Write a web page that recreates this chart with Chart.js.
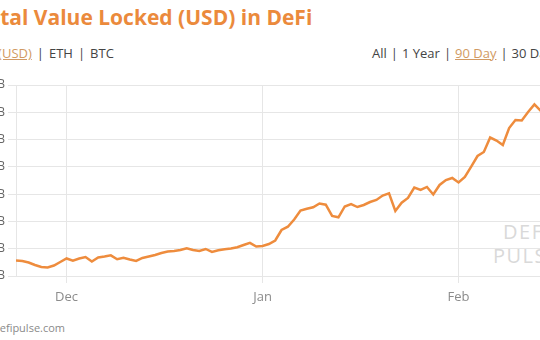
<!DOCTYPE html>
<html>
<head>
<meta charset="utf-8">
<script src="https://cdn.jsdelivr.net/npm/chart.js@4.4.0/dist/chart.umd.min.js"></script>
<style>
    html, body { margin: 0; padding: 0; width: 540px; height: 340px; overflow: hidden; background: #fff; }
    body { position: relative; font-family: 'Open Sans', sans-serif; }
    .abs { position: absolute; white-space: nowrap; }
    #title { top: 3px; font-size: 21px; line-height: 28px; font-weight: 700; color: #eb8a3c; }
    #units { top: 45px; font-size: 13px; line-height: 16px; color: #444; }
    #ranges { top: 45px; left: 372px; font-size: 13px; line-height: 16px; color: #444; }
    .sel { color: #d19a63; text-decoration: underline; }
    .sep { margin: 0 5px; }
    #source { top: 320px; font-size: 11px; line-height: 16px; color: #8a8a8a; }
    .mark { font-size: 20px; line-height: 24px; letter-spacing: 1.5px; color: #d9d9d9; font-weight: 400; }
    #chartBox { position: absolute; left: -24px; top: 75px; width: 609px; height: 241px; }
</style>
</head>
<body>
<div id="title" class="abs"><span id="titleCut">To</span>tal Value Locked (USD) in DeFi</div>
<div id="units" class="abs"><span id="unitsCut">TVL </span><span class="sel">(USD)</span><span class="sep">|</span>ETH<span class="sep">|</span>BTC</div>
<div id="ranges" class="abs">All<span class="sep" style="margin:0 4px">|</span>1 Year<span class="sep" style="margin:0 4px">|</span><span class="sel">90 Day</span><span class="sep" style="margin:0 4px">|</span>30 Day</div>
<div class="abs mark" style="left:503px; top:220px;">DEFI</div>
<div class="abs mark" style="left:493px; top:244px;">PULSE</div>
<div id="source" class="abs"><span id="sourceCut">d</span>efipulse.com</div>
<div id="chartBox"><canvas id="tvlChart"></canvas></div>
<script>
// Total value locked, USD billions, one value per day starting 2020-11-23
const startDate = '2020-11-23';
const tvlUsdB = [
    12.84, 12.75, 12.47, 12.02, 11.65, 11.56, 11.92, 12.57,
    13.21, 12.80, 13.21, 13.48, 12.66, 13.39, 13.57, 13.79, 13.08, 13.34,
    13.02, 12.75, 13.30, 13.57, 13.85, 14.21, 14.49, 14.58, 14.76, 15.08,
    14.76, 14.58, 14.95, 14.40, 14.71, 14.91, 15.04, 15.26, 15.68, 16.08, 15.41,
    15.50, 15.86, 16.51, 18.43, 19.03, 20.35, 22.00, 22.33, 22.59, 23.29,
    23.07, 21.00, 20.76, 22.74, 23.19, 22.64, 23.01, 23.56, 23.93, 24.75,
    25.15, 21.91, 23.43, 24.29, 26.22, 25.76, 26.31, 24.93, 26.68, 27.59, 27.96,
    27.13, 28.14, 30.03, 31.99, 32.72, 35.38, 34.83, 34.01, 37.12, 38.59,
    38.50, 40.05, 41.43, 40.24
];
// Month boundaries, as day offsets from startDate
const monthLabels = ['Dec', 'Jan', 'Feb'];
const monthStartIdx = [8, 39, 70];
// Y axis tick values, USD billions
const yTicks = [10, 15, 20, 25, 30, 35, 40, 45];

// Shift the header texts so they are cut at the left edge like the screenshot
document.getElementById('title').style.left = -document.getElementById('titleCut').offsetWidth + 'px';
document.getElementById('units').style.left = (-document.getElementById('unitsCut').offsetWidth - 2) + 'px';
document.getElementById('source').style.left = -document.getElementById('sourceCut').offsetWidth + 'px';

const gridColor = '#e6e6e6';

const chart = new Chart(document.getElementById('tvlChart'), {
    type: 'line',
    data: {
        datasets: [{
            label: 'TVL (USD)',
            data: tvlUsdB.map((v, i) => ({ x: i, y: v })),
            borderColor: '#ee8c3d',
            borderWidth: 2.5,
            pointRadius: 0,
            tension: 0,
            fill: false
        }]
    },
    options: {
        responsive: true,
        maintainAspectRatio: false,
        animation: false,
        layout: { padding: { top: 10, left: 0, right: 0, bottom: 0 } },
        plugins: {
            legend: { display: false },
            tooltip: { enabled: false }
        },
        scales: {
            x: {
                type: 'linear',
                min: 0,
                max: 90,
                afterBuildTicks: (scale) => { scale.ticks = monthStartIdx.map(v => ({ value: v })); },
                afterFit: (scale) => { scale.height = 40; scale.paddingLeft = 0; scale.paddingRight = 0; },
                grid: { color: gridColor, tickLength: 7 },
                border: { color: gridColor },
                ticks: {
                    autoSkip: false,
                    maxRotation: 0,
                    padding: 6,
                    color: '#8c8c8c',
                    font: { family: 'Open Sans', size: 13 },
                    callback: (v) => monthLabels[monthStartIdx.indexOf(v)]
                }
            },
            y: {
                min: 10,
                max: 45,
                afterBuildTicks: (scale) => { scale.ticks = yTicks.map(v => ({ value: v })); },
                afterFit: (scale) => { scale.width = 40; scale.paddingTop = 0; scale.paddingBottom = 0; },
                grid: { color: gridColor, tickLength: 8 },
                border: { color: gridColor },
                ticks: {
                    padding: 3,
                    color: '#666',
                    font: { family: 'Open Sans', size: 12 },
                    callback: (v) => '$' + v + 'B'
                }
            }
        }
    }
});
</script>
</body>
</html>
